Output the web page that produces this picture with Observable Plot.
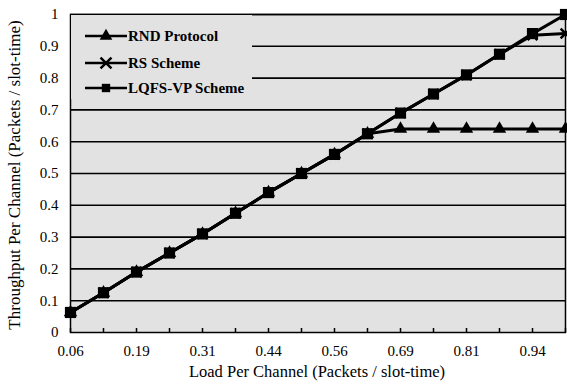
<!DOCTYPE html>
<html>
<head>
<meta charset="utf-8">
<script src="https://cdn.jsdelivr.net/npm/d3@7"></script>
<script src="https://cdn.jsdelivr.net/npm/@observablehq/plot@0.6"></script>
<style>
  body { margin: 0; background: #fff; }
  #wrap { position: relative; width: 567px; height: 385px; font-family: "Liberation Serif", "Times New Roman", serif; }
  #legend { position: absolute; left: 71px; top: 15px; width: 181px; height: 84px; background: #e2e2e2; }
  .row { position: absolute; left: 12px; display: flex; align-items: center; height: 16px; white-space: nowrap; }
  .row span { font-weight: bold; font-size: 15px; margin-left: 1px; color: #000; }
</style>
</head>
<body>
<div id="wrap"></div>
<script>
const loads = ["0.06","0.125","0.19","0.25","0.31","0.375","0.44","0.5","0.56","0.625","0.69","0.75","0.81","0.875","0.94","1"];
const xTickLabels = ["0.06","0.19","0.31","0.44","0.56","0.69","0.81","0.94"];
const yTicks = [0,0.1,0.2,0.3,0.4,0.5,0.6,0.7,0.8,0.9,1];
const rnd  = [0.063,0.125,0.19,0.25,0.31,0.375,0.44,0.5,0.56,0.625,0.64,0.64,0.64,0.64,0.64,0.64];
const rs   = [0.063,0.125,0.19,0.25,0.31,0.375,0.44,0.5,0.56,0.625,0.69,0.75,0.81,0.875,0.935,0.94];
const lqfs = [0.063,0.125,0.19,0.25,0.31,0.375,0.44,0.5,0.56,0.625,0.69,0.75,0.81,0.875,0.94,1.0];
const seriesNames = ["RND Protocol","RS Scheme","LQFS-VP Scheme"];
const symbols = ["triangle","times","square"];

const rows = (vals, s) => vals.map((v, i) => ({load: loads[i], value: v, series: s}));
const dRnd = rows(rnd, seriesNames[0]);
const dRs = rows(rs, seriesNames[1]);
const dLq = rows(lqfs, seriesNames[2]);

const chart = Plot.plot({
  width: 567, height: 385,
  marginLeft: 70, marginRight: 2, marginTop: 14, marginBottom: 53,
  style: {fontFamily: "Liberation Serif, serif", fontSize: "15px", color: "#000", background: "#fff"},
  x: {type: "point", domain: loads, padding: 0},
  y: {domain: [0, 1]},
  marks: [
    Plot.frame({fill: "#e2e2e2", stroke: null}),
    Plot.ruleY(yTicks.slice(1), {stroke: "#000", strokeWidth: 1.6}),
    Plot.axisX({ticks: loads, tickSize: -4, tickFormat: () => "", label: null, strokeWidth: 1.5}),
    Plot.axisX({ticks: xTickLabels, tickSize: 0, tickPadding: 13, label: null, fontSize: 15}),
    Plot.axisY({ticks: yTicks, tickSize: 0, tickPadding: 12, tickFormat: d => d === 0 ? "0" : d === 1 ? "1" : d.toFixed(1),
      label: null, fontSize: 15}),
    Plot.line(dRnd, {x: "load", y: "value", stroke: "#000", strokeWidth: 3}),
    Plot.line(dRs, {x: "load", y: "value", stroke: "#000", strokeWidth: 3}),
    Plot.line(dLq, {x: "load", y: "value", stroke: "#000", strokeWidth: 3}),
    Plot.dot(dRnd, {x: "load", y: "value", symbol: "triangle", fill: "#000", r: 5}),
    Plot.dot(dRs, {x: "load", y: "value", symbol: "times", stroke: "#000", strokeWidth: 2.5, r: 4.5}),
    Plot.dot(dLq, {x: "load", y: "value", symbol: "square", fill: "#000", r: 6.3}),
    Plot.frame({stroke: "#000", strokeWidth: 1.5})
  ]
});

const wrap = document.getElementById("wrap");
wrap.appendChild(chart);

// axis titles
const svg = d3.select(chart);
svg.append("text").attr("x", 317).attr("y", 377).attr("text-anchor", "middle")
  .attr("font-size", 16.5).attr("font-family", "Liberation Serif, serif").attr("fill", "#000")
  .text("Load Per Channel (Packets / slot-time)");
svg.append("text").attr("transform", "translate(20,175) rotate(-90)").attr("text-anchor", "middle")
  .attr("font-size", 17).attr("font-family", "Liberation Serif, serif").attr("fill", "#000")
  .text("Throughput Per Channel (Packets / slot-time)");

const legend = document.createElement("div");
legend.id = "legend";
wrap.appendChild(legend);
const rowTops = [13, 40, 65];
seriesNames.forEach((name, i) => {
  const row = document.createElement("div");
  row.className = "row";
  row.style.top = rowTops[i] + "px";
  const s = d3.create("svg").attr("width", 44).attr("height", 16);
  s.append("line").attr("x1", 2).attr("x2", 44).attr("y1", 8).attr("y2", 8).attr("stroke", "#000").attr("stroke-width", 2.5);
  const sym = d3.symbol().type({triangle: d3.symbolTriangle, times: d3.symbolTimes, square: d3.symbolSquare}[symbols[i]])
    .size(symbols[i] === "times" ? 80 : 70);
  const p = s.append("path").attr("d", sym()).attr("transform", "translate(23,8)");
  if (symbols[i] === "times") p.attr("fill", "none").attr("stroke", "#000").attr("stroke-width", 2.5);
  else p.attr("fill", "#000");
  row.appendChild(s.node());
  const t = document.createElement("span");
  t.textContent = name;
  row.appendChild(t);
  legend.appendChild(row);
});
</script>
</body>
</html>
